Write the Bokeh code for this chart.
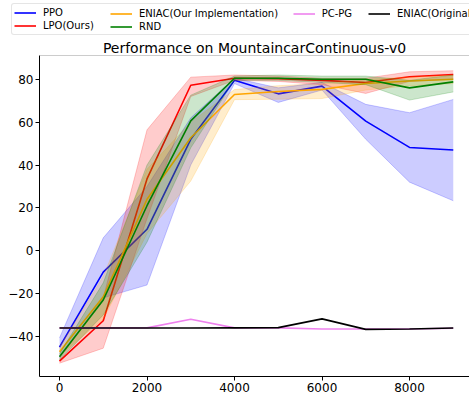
from bokeh.plotting import figure
from bokeh.models import (Legend, LegendItem, Range1d, FixedTicker,
                          CustomJSTickFormatter, Span)
from bokeh.embed import file_html
from bokeh.resources import INLINE

steps = [0, 1000, 2000, 3000, 4000, 5000, 6000, 7000, 8000, 9000]

ppo_mean = [-45, -10, 10, 52, 79.5, 73.2, 76.8, 60.5, 48.2, 47]
ppo_low = [-50, -22, -16, 40, 78, 69.2, 75, 52, 32, 23.3]
ppo_high = [-40.7, 6, 30, 62, 80.5, 76, 78.5, 68.3, 64.4, 70.6]

lpo_mean = [-51.5, -32.7, 33.5, 77.2, 80.5, 80.3, 79.5, 78.5, 81.2, 82.2]
lpo_low = [-52.5, -45.5, 15, 72, 79.5, 79, 77.5, 73.4, 79, 80]
lpo_high = [-50.5, -22, 56.4, 81, 82, 81.5, 80.5, 80.5, 83.5, 84]

eniac_mean = [-47.2, -21.5, 24, 52.7, 72.9, 74.3, 75.3, 78, 79.2, 80]
eniac_low = [-49, -32, 8, 32.5, 70.5, 70.7, 71, 75, 77, 78]
eniac_high = [-45, -12, 38, 60, 75.2, 77, 78, 80, 81, 82]

rnd_mean = [-49.5, -23, 21, 60.6, 80.5, 80.5, 80, 80, 76, 78.8]
rnd_low = [-51, -30, 4, 48, 79.5, 79.5, 78.5, 77.5, 70.3, 74.1]
rnd_high = [-48, -15, 40, 72.6, 81.5, 82, 81.5, 81.5, 79.5, 82]

pcpg_mean = [-36, -36, -36, -32, -36, -36, -36.5, -36.5, -36.5, -36.2]
orig_mean = [-36.1, -36.1, -36.1, -36.1, -36, -35.9, -31.8, -36.7, -36.5, -36.1]

x_ticks = [0, 2000, 4000, 6000, 8000]
y_ticks = [-40, -20, 0, 20, 40, 60, 80]

legend_columns = [["PPO", "LPO(Ours)"], ["ENIAC(Our Implementation)", "RND"],
                  ["PC-PG"], ["ENIAC(Original)"]]

FONT = "DejaVu Sans"
W, H = 469, 397
STRIP_H = 36
MAIN_H = H - STRIP_H
TOP, BOTTOM, LEFT = 19, 21, 39
Y_TOP = 91.1

series = [
    ("PPO", "#0000ff", ppo_mean, ppo_low, ppo_high),
    ("LPO(Ours)", "#ff0000", lpo_mean, lpo_low, lpo_high),
    ("ENIAC(Our Implementation)", "#ffa500", eniac_mean, eniac_low, eniac_high),
    ("RND", "#008000", rnd_mean, rnd_low, rnd_high),
    ("PC-PG", "#ee82ee", pcpg_mean, None, None),
    ("ENIAC(Original)", "#000000", orig_mean, None, None),
]

# ---------------- main plot ----------------
p = figure(width=W, height=MAIN_H, output_backend="svg", toolbar_location=None,
           x_range=Range1d(-457, 9371), y_range=Range1d(-58.7, Y_TOP),
           min_border_left=LEFT, min_border_right=0, min_border_top=TOP,
           min_border_bottom=BOTTOM)
p.background_fill_color = "white"
p.border_fill_color = "white"
p.outline_line_color = None
p.xgrid.visible = False
p.ygrid.visible = False

fmt = CustomJSTickFormatter(code="return tick < 0 ? '\\u2212' + (-tick) : '' + tick;")
for ax, ticks in ((p.xaxis[0], x_ticks), (p.yaxis[0], y_ticks)):
    ax.ticker = FixedTicker(ticks=ticks)
    ax.formatter = fmt
    ax.major_label_text_font = FONT
    ax.major_label_text_font_size = "12px"
    ax.major_label_text_color = "black"
    ax.axis_line_color = "black"
    ax.axis_line_width = 1
    ax.major_tick_line_color = "black"
    ax.major_tick_out = 4
    ax.major_tick_in = 0
    ax.minor_tick_out = 0
    ax.minor_tick_in = 0
    ax.major_label_standoff = 2

p.add_layout(Span(location=Y_TOP, dimension="width", line_color="#9a9a9a", line_width=1))

for name, color, mean, lo, hi in series:
    if lo is not None:
        p.varea(x=steps, y1=lo, y2=hi, fill_color=color, fill_alpha=0.2)
        p.line(x=steps, y=lo, line_color=color, line_alpha=0.2, line_width=1)
        p.line(x=steps, y=hi, line_color=color, line_alpha=0.2, line_width=1)
    p.line(x=steps, y=mean, line_color=color, line_width=1.6)

p.title.text = "Performance on MountaincarContinuous-v0"
p.title.align = "center"
p.title.text_font = FONT
p.title.text_font_size = "14px"
p.title.text_font_style = "normal"
p.title.text_color = "black"
p.title.standoff = 0

# ---------------- legend strip (separate root, placed above) ----------------
lf = figure(width=W, height=STRIP_H, output_backend="svg", toolbar_location=None,
            x_range=Range1d(0, 1), y_range=Range1d(0, 1),
            min_border_left=0, min_border_right=0, min_border_top=0,
            min_border_bottom=0, x_axis_location=None, y_axis_location=None)
lf.outline_line_color = None
lf.xgrid.visible = False
lf.ygrid.visible = False
lf.background_fill_color = "white"
lf.border_fill_color = "white"

# legend keys: line renderers with a single NaN point (draw nothing themselves)
nan = float("nan")
keys = {}
for name, color, mean, lo, hi in series:
    keys[name] = lf.line(x=[nan], y=[nan], line_color=color, line_width=1.6)


def make_legend(names, x, y_bottom, boxed):
    lg = Legend(items=[LegendItem(label=n, renderers=[keys[n]]) for n in names],
                location=(x, y_bottom))
    lg.label_text_font = FONT
    lg.label_text_font_size = "10px"
    lg.label_text_color = "black"
    lg.label_height = 13
    lg.glyph_height = 13
    lg.glyph_width = 22
    lg.label_standoff = 7
    lg.spacing = 0
    lg.margin = 0
    if boxed:
        lg.padding = 2
        lg.label_width = 440
        lg.border_line_color = "#cccccc"
        lg.border_line_width = 1
        lg.background_fill_color = "white"
        lg.background_fill_alpha = 1
        try:
            lg.border_radius = 3
        except Exception:
            pass
    else:
        lg.padding = 0
        lg.border_line_color = None
        lg.background_fill_alpha = 0
    lf.add_layout(lg)


# positions in strip pixels, measured from the strip's bottom-left corner
make_legend(legend_columns[0], 11, STRIP_H - 35, True)
make_legend(legend_columns[1], 110, STRIP_H - 33, False)
make_legend(legend_columns[2], 292.7, STRIP_H - 20, False)
make_legend(legend_columns[3], 368, STRIP_H - 20, False)

open("out.html", "w").write(file_html([lf, p], INLINE))
